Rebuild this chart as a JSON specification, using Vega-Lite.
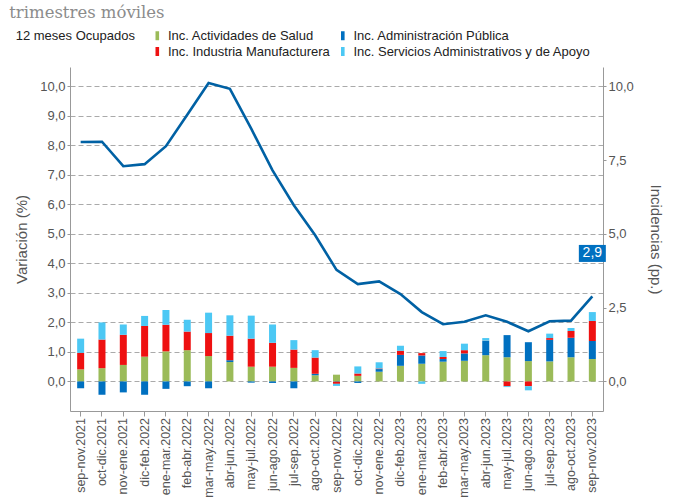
{
  "$schema": "https://vega.github.io/schema/vega-lite/v6.json",
  "width": 533,
  "height": 344,
  "autosize": {"type": "none"},
  "padding": {"left": 70, "top": 67, "right": 73, "bottom": 88},
  "background": "white",
  "title": {
    "text": "trimestres móviles",
    "anchor": "start",
    "font": "DejaVu Serif",
    "fontSize": 16.5,
    "fontWeight": "normal",
    "color": "#8c8c8c",
    "dx": 6.5,
    "offset": 8
  },
  "datasets": {
    "barras": [
      {"periodo": "sep-nov.2021", "serie": "Inc. Actividades de Salud", "valor": 0.41},
      {"periodo": "sep-nov.2021", "serie": "Inc. Administración Pública", "valor": -0.23},
      {"periodo": "sep-nov.2021", "serie": "Inc. Industria Manufacturera", "valor": 0.56},
      {"periodo": "sep-nov.2021", "serie": "Inc. Servicios Administrativos y de Apoyo", "valor": 0.48},
      {"periodo": "oct-dic.2021", "serie": "Inc. Actividades de Salud", "valor": 0.45},
      {"periodo": "oct-dic.2021", "serie": "Inc. Administración Pública", "valor": -0.45},
      {"periodo": "oct-dic.2021", "serie": "Inc. Industria Manufacturera", "valor": 0.97},
      {"periodo": "oct-dic.2021", "serie": "Inc. Servicios Administrativos y de Apoyo", "valor": 0.58},
      {"periodo": "nov-ene.2021", "serie": "Inc. Actividades de Salud", "valor": 0.56},
      {"periodo": "nov-ene.2021", "serie": "Inc. Administración Pública", "valor": -0.37},
      {"periodo": "nov-ene.2021", "serie": "Inc. Industria Manufacturera", "valor": 1.02},
      {"periodo": "nov-ene.2021", "serie": "Inc. Servicios Administrativos y de Apoyo", "valor": 0.35},
      {"periodo": "dic-feb.2022", "serie": "Inc. Actividades de Salud", "valor": 0.84},
      {"periodo": "dic-feb.2022", "serie": "Inc. Administración Pública", "valor": -0.45},
      {"periodo": "dic-feb.2022", "serie": "Inc. Industria Manufacturera", "valor": 1.04},
      {"periodo": "dic-feb.2022", "serie": "Inc. Servicios Administrativos y de Apoyo", "valor": 0.34},
      {"periodo": "ene-mar.2022", "serie": "Inc. Actividades de Salud", "valor": 1.02},
      {"periodo": "ene-mar.2022", "serie": "Inc. Administración Pública", "valor": -0.25},
      {"periodo": "ene-mar.2022", "serie": "Inc. Industria Manufacturera", "valor": 0.90},
      {"periodo": "ene-mar.2022", "serie": "Inc. Servicios Administrativos y de Apoyo", "valor": 0.50},
      {"periodo": "feb-abr.2022", "serie": "Inc. Actividades de Salud", "valor": 1.06},
      {"periodo": "feb-abr.2022", "serie": "Inc. Administración Pública", "valor": -0.16},
      {"periodo": "feb-abr.2022", "serie": "Inc. Industria Manufacturera", "valor": 0.63},
      {"periodo": "feb-abr.2022", "serie": "Inc. Servicios Administrativos y de Apoyo", "valor": 0.40},
      {"periodo": "mar-may.2022", "serie": "Inc. Actividades de Salud", "valor": 0.86},
      {"periodo": "mar-may.2022", "serie": "Inc. Administración Pública", "valor": -0.23},
      {"periodo": "mar-may.2022", "serie": "Inc. Industria Manufacturera", "valor": 0.78},
      {"periodo": "mar-may.2022", "serie": "Inc. Servicios Administrativos y de Apoyo", "valor": 0.69},
      {"periodo": "abr-jun.2022", "serie": "Inc. Actividades de Salud", "valor": 0.66},
      {"periodo": "abr-jun.2022", "serie": "Inc. Administración Pública", "valor": 0.06},
      {"periodo": "abr-jun.2022", "serie": "Inc. Industria Manufacturera", "valor": 0.83},
      {"periodo": "abr-jun.2022", "serie": "Inc. Servicios Administrativos y de Apoyo", "valor": 0.69},
      {"periodo": "may-jul.2022", "serie": "Inc. Actividades de Salud", "valor": 0.50},
      {"periodo": "may-jul.2022", "serie": "Inc. Administración Pública", "valor": -0.04},
      {"periodo": "may-jul.2022", "serie": "Inc. Industria Manufacturera", "valor": 0.95},
      {"periodo": "may-jul.2022", "serie": "Inc. Servicios Administrativos y de Apoyo", "valor": 0.78},
      {"periodo": "jun-ago.2022", "serie": "Inc. Actividades de Salud", "valor": 0.50},
      {"periodo": "jun-ago.2022", "serie": "Inc. Administración Pública", "valor": -0.05},
      {"periodo": "jun-ago.2022", "serie": "Inc. Industria Manufacturera", "valor": 0.81},
      {"periodo": "jun-ago.2022", "serie": "Inc. Servicios Administrativos y de Apoyo", "valor": 0.62},
      {"periodo": "jul-sep.2022", "serie": "Inc. Actividades de Salud", "valor": 0.46},
      {"periodo": "jul-sep.2022", "serie": "Inc. Administración Pública", "valor": -0.23},
      {"periodo": "jul-sep.2022", "serie": "Inc. Industria Manufacturera", "valor": 0.62},
      {"periodo": "jul-sep.2022", "serie": "Inc. Servicios Administrativos y de Apoyo", "valor": 0.32},
      {"periodo": "ago-oct.2022", "serie": "Inc. Actividades de Salud", "valor": 0.21},
      {"periodo": "ago-oct.2022", "serie": "Inc. Administración Pública", "valor": 0.05},
      {"periodo": "ago-oct.2022", "serie": "Inc. Industria Manufacturera", "valor": 0.55},
      {"periodo": "ago-oct.2022", "serie": "Inc. Servicios Administrativos y de Apoyo", "valor": 0.25},
      {"periodo": "sep-nov.2022", "serie": "Inc. Actividades de Salud", "valor": 0.23},
      {"periodo": "sep-nov.2022", "serie": "Inc. Administración Pública", "valor": -0.01},
      {"periodo": "sep-nov.2022", "serie": "Inc. Industria Manufacturera", "valor": -0.07},
      {"periodo": "sep-nov.2022", "serie": "Inc. Servicios Administrativos y de Apoyo", "valor": -0.07},
      {"periodo": "oct-dic.2022", "serie": "Inc. Actividades de Salud", "valor": 0.19},
      {"periodo": "oct-dic.2022", "serie": "Inc. Administración Pública", "valor": -0.05},
      {"periodo": "oct-dic.2022", "serie": "Inc. Industria Manufacturera", "valor": 0.08},
      {"periodo": "oct-dic.2022", "serie": "Inc. Servicios Administrativos y de Apoyo", "valor": 0.24},
      {"periodo": "nov-ene.2022", "serie": "Inc. Actividades de Salud", "valor": 0.33},
      {"periodo": "nov-ene.2022", "serie": "Inc. Administración Pública", "valor": 0.09},
      {"periodo": "nov-ene.2022", "serie": "Inc. Industria Manufacturera", "valor": 0.02},
      {"periodo": "nov-ene.2022", "serie": "Inc. Servicios Administrativos y de Apoyo", "valor": 0.21},
      {"periodo": "dic-feb.2023", "serie": "Inc. Actividades de Salud", "valor": 0.53},
      {"periodo": "dic-feb.2023", "serie": "Inc. Administración Pública", "valor": 0.37},
      {"periodo": "dic-feb.2023", "serie": "Inc. Industria Manufacturera", "valor": 0.14},
      {"periodo": "dic-feb.2023", "serie": "Inc. Servicios Administrativos y de Apoyo", "valor": 0.17},
      {"periodo": "ene-mar.2023", "serie": "Inc. Actividades de Salud", "valor": 0.60},
      {"periodo": "ene-mar.2023", "serie": "Inc. Administración Pública", "valor": 0.28},
      {"periodo": "ene-mar.2023", "serie": "Inc. Industria Manufacturera", "valor": 0.08},
      {"periodo": "ene-mar.2023", "serie": "Inc. Servicios Administrativos y de Apoyo", "valor": -0.08},
      {"periodo": "feb-abr.2023", "serie": "Inc. Actividades de Salud", "valor": 0.67},
      {"periodo": "feb-abr.2023", "serie": "Inc. Administración Pública", "valor": 0.09},
      {"periodo": "feb-abr.2023", "serie": "Inc. Industria Manufacturera", "valor": 0.07},
      {"periodo": "feb-abr.2023", "serie": "Inc. Servicios Administrativos y de Apoyo", "valor": 0.20},
      {"periodo": "mar-may.2023", "serie": "Inc. Actividades de Salud", "valor": 0.70},
      {"periodo": "mar-may.2023", "serie": "Inc. Administración Pública", "valor": 0.25},
      {"periodo": "mar-may.2023", "serie": "Inc. Industria Manufacturera", "valor": 0.11},
      {"periodo": "mar-may.2023", "serie": "Inc. Servicios Administrativos y de Apoyo", "valor": 0.22},
      {"periodo": "abr-jun.2023", "serie": "Inc. Actividades de Salud", "valor": 0.89},
      {"periodo": "abr-jun.2023", "serie": "Inc. Administración Pública", "valor": 0.48},
      {"periodo": "abr-jun.2023", "serie": "Inc. Industria Manufacturera", "valor": 0.01},
      {"periodo": "abr-jun.2023", "serie": "Inc. Servicios Administrativos y de Apoyo", "valor": 0.09},
      {"periodo": "may-jul.2023", "serie": "Inc. Actividades de Salud", "valor": 0.82},
      {"periodo": "may-jul.2023", "serie": "Inc. Administración Pública", "valor": 0.75},
      {"periodo": "may-jul.2023", "serie": "Inc. Industria Manufacturera", "valor": -0.16},
      {"periodo": "may-jul.2023", "serie": "Inc. Servicios Administrativos y de Apoyo", "valor": -0.03},
      {"periodo": "jun-ago.2023", "serie": "Inc. Actividades de Salud", "valor": 0.69},
      {"periodo": "jun-ago.2023", "serie": "Inc. Administración Pública", "valor": 0.64},
      {"periodo": "jun-ago.2023", "serie": "Inc. Industria Manufacturera", "valor": -0.16},
      {"periodo": "jun-ago.2023", "serie": "Inc. Servicios Administrativos y de Apoyo", "valor": -0.14},
      {"periodo": "jul-sep.2023", "serie": "Inc. Actividades de Salud", "valor": 0.68},
      {"periodo": "jul-sep.2023", "serie": "Inc. Administración Pública", "valor": 0.73},
      {"periodo": "jul-sep.2023", "serie": "Inc. Industria Manufacturera", "valor": 0.06},
      {"periodo": "jul-sep.2023", "serie": "Inc. Servicios Administrativos y de Apoyo", "valor": 0.15},
      {"periodo": "ago-oct.2023", "serie": "Inc. Actividades de Salud", "valor": 0.82},
      {"periodo": "ago-oct.2023", "serie": "Inc. Administración Pública", "valor": 0.66},
      {"periodo": "ago-oct.2023", "serie": "Inc. Industria Manufacturera", "valor": 0.23},
      {"periodo": "ago-oct.2023", "serie": "Inc. Servicios Administrativos y de Apoyo", "valor": 0.10},
      {"periodo": "sep-nov.2023", "serie": "Inc. Actividades de Salud", "valor": 0.76},
      {"periodo": "sep-nov.2023", "serie": "Inc. Administración Pública", "valor": 0.61},
      {"periodo": "sep-nov.2023", "serie": "Inc. Industria Manufacturera", "valor": 0.68},
      {"periodo": "sep-nov.2023", "serie": "Inc. Servicios Administrativos y de Apoyo", "valor": 0.30}
    ],
    "linea": [
      {"periodo": "sep-nov.2021", "serie": "12 meses Ocupados", "valor": 8.11},
      {"periodo": "oct-dic.2021", "serie": "12 meses Ocupados", "valor": 8.12},
      {"periodo": "nov-ene.2021", "serie": "12 meses Ocupados", "valor": 7.29},
      {"periodo": "dic-feb.2022", "serie": "12 meses Ocupados", "valor": 7.36},
      {"periodo": "ene-mar.2022", "serie": "12 meses Ocupados", "valor": 7.97},
      {"periodo": "feb-abr.2022", "serie": "12 meses Ocupados", "valor": 9.03},
      {"periodo": "mar-may.2022", "serie": "12 meses Ocupados", "valor": 10.11},
      {"periodo": "abr-jun.2022", "serie": "12 meses Ocupados", "valor": 9.91},
      {"periodo": "may-jul.2022", "serie": "12 meses Ocupados", "valor": 8.56},
      {"periodo": "jun-ago.2022", "serie": "12 meses Ocupados", "valor": 7.15},
      {"periodo": "jul-sep.2022", "serie": "12 meses Ocupados", "valor": 5.97},
      {"periodo": "ago-oct.2022", "serie": "12 meses Ocupados", "valor": 4.95},
      {"periodo": "sep-nov.2022", "serie": "12 meses Ocupados", "valor": 3.78},
      {"periodo": "oct-dic.2022", "serie": "12 meses Ocupados", "valor": 3.30},
      {"periodo": "nov-ene.2022", "serie": "12 meses Ocupados", "valor": 3.39},
      {"periodo": "dic-feb.2023", "serie": "12 meses Ocupados", "valor": 2.96},
      {"periodo": "ene-mar.2023", "serie": "12 meses Ocupados", "valor": 2.35},
      {"periodo": "feb-abr.2023", "serie": "12 meses Ocupados", "valor": 1.94},
      {"periodo": "mar-may.2023", "serie": "12 meses Ocupados", "valor": 2.02},
      {"periodo": "abr-jun.2023", "serie": "12 meses Ocupados", "valor": 2.24},
      {"periodo": "may-jul.2023", "serie": "12 meses Ocupados", "valor": 2.02},
      {"periodo": "jun-ago.2023", "serie": "12 meses Ocupados", "valor": 1.70},
      {"periodo": "jul-sep.2023", "serie": "12 meses Ocupados", "valor": 2.04},
      {"periodo": "ago-oct.2023", "serie": "12 meses Ocupados", "valor": 2.06},
      {"periodo": "sep-nov.2023", "serie": "12 meses Ocupados", "valor": 2.88}
    ]
  },
  "resolve": {"scale": {"y": "independent"}, "axis": {"y": "independent"}},
  "layer": [
    {
      "data": {"name": "barras"},
      "mark": {"type": "bar", "size": 7, "strokeWidth": 1, "strokeOpacity": 0.35},
      "encoding": {
        "x": {
          "field": "periodo",
          "type": "nominal",
          "sort": ["sep-nov.2021","oct-dic.2021","nov-ene.2021","dic-feb.2022","ene-mar.2022","feb-abr.2022","mar-may.2022","abr-jun.2022","may-jul.2022","jun-ago.2022","jul-sep.2022","ago-oct.2022","sep-nov.2022","oct-dic.2022","nov-ene.2022","dic-feb.2023","ene-mar.2023","feb-abr.2023","mar-may.2023","abr-jun.2023","may-jul.2023","jun-ago.2023","jul-sep.2023","ago-oct.2023","sep-nov.2023"],
          "scale": {"type": "band", "paddingInner": 0, "paddingOuter": 0},
          "axis": {
            "title": null,
            "labelAngle": -90,
            "labelFontSize": 12.5,
            "labelColor": "#555555",
            "labelFont": "Liberation Sans",
            "labelPadding": 1.5,
            "tickSize": 5,
            "tickColor": "#999999",
            "domainColor": "#999999",
            "grid": false
          }
        },
        "y": {
          "field": "valor",
          "type": "quantitative",
          "stack": "zero",
          "scale": {"domain": [-1.0, 10.65], "nice": false, "zero": false},
          "axis": {
            "orient": "left",
            "values": [0,1,2,3,4,5,6,7,8,9,10],
            "format": ".1f",
            "title": "Variación (%)",
            "titleFontSize": 15,
            "titleFontWeight": "normal",
            "titleColor": "#555555",
            "titleFont": "Liberation Sans",
            "titlePadding": 10,
            "labelFontSize": 13,
            "labelColor": "#555555",
            "labelFont": "Liberation Sans",
            "tickSize": 3,
            "tickColor": "#999999",
            "domainColor": "#999999",
            "grid": true,
            "gridColor": "#aaaaaa",
            "gridDash": [5, 3],
            "gridWidth": 1
          }
        },
        "order": {"field": "serie", "type": "nominal", "sort": "ascending"},
        "color": {
          "field": "serie",
          "type": "nominal",
          "scale": {
            "domain": ["Inc. Actividades de Salud", "Inc. Administración Pública", "Inc. Industria Manufacturera", "Inc. Servicios Administrativos y de Apoyo"],
            "range": ["#9bbb59", "#0070c0", "#ee1111", "#4cc8f4"]
          },
          "legend": {
            "title": null,
            "orient": "none",
            "legendX": 80.8,
            "legendY": -38,
            "direction": "horizontal",
            "columns": 2,
            "columnPadding": 6.5,
            "rowPadding": 2,
            "symbolType": "M-0.4,-1H0.4V1H-0.4Z",
            "symbolSize": 81,
            "symbolStrokeWidth": 0,
            "labelOffset": 4.1,
            "labelLimit": 0,
            "labelFontSize": 13,
            "labelFont": "Liberation Sans",
            "labelColor": "#222222"
          }
        }
      }
    },
    {
      "data": {"name": "linea"},
      "mark": {"type": "line", "strokeWidth": 2.6, "strokeJoin": "miter"},
      "encoding": {
        "x": {
          "field": "periodo",
          "type": "nominal",
          "bandPosition": 0.5,
          "sort": ["sep-nov.2021","oct-dic.2021","nov-ene.2021","dic-feb.2022","ene-mar.2022","feb-abr.2022","mar-may.2022","abr-jun.2022","may-jul.2022","jun-ago.2022","jul-sep.2022","ago-oct.2022","sep-nov.2022","oct-dic.2022","nov-ene.2022","dic-feb.2023","ene-mar.2023","feb-abr.2023","mar-may.2023","abr-jun.2023","may-jul.2023","jun-ago.2023","jul-sep.2023","ago-oct.2023","sep-nov.2023"]
        },
        "y": {
          "field": "valor",
          "type": "quantitative",
          "scale": {"domain": [-1.0, 10.65], "nice": false, "zero": false},
          "axis": {
            "orient": "right",
            "values": [0, 2.5, 5, 7.5, 10],
            "format": ".1f",
            "title": "Incidencias (pp.)",
            "titleFontSize": 15,
            "titleFontWeight": "normal",
            "titleColor": "#555555",
            "titleFont": "Liberation Sans",
            "titlePadding": 14,
            "labelFontSize": 13,
            "labelColor": "#555555",
            "labelFont": "Liberation Sans",
            "tickSize": 3,
            "tickColor": "#999999",
            "domainColor": "#999999",
            "grid": false
          }
        },
        "stroke": {
          "field": "serie",
          "type": "nominal",
          "scale": {"range": ["#0061a4"]},
          "legend": {
            "title": null,
            "orient": "none",
            "legendX": -67.3,
            "legendY": -38,
            "symbolSize": 0,
            "symbolStrokeWidth": 0,
            "labelOffset": 0,
            "labelLimit": 0,
            "labelFontSize": 13,
            "labelFont": "Liberation Sans",
            "labelColor": "#222222"
          }
        }
      }
    },
    {
      "data": {"name": "linea"},
      "transform": [{"filter": "datum.periodo === 'sep-nov.2023'"}],
      "mark": {"type": "point", "shape": "M-1,-0.63H1V0.63H-1Z", "size": 729, "filled": true, "opacity": 1, "color": "#0070c0", "yOffset": -43},
      "encoding": {
        "x": {"field": "periodo", "type": "nominal", "bandPosition": 0.5,
          "sort": ["sep-nov.2021","oct-dic.2021","nov-ene.2021","dic-feb.2022","ene-mar.2022","feb-abr.2022","mar-may.2022","abr-jun.2022","may-jul.2022","jun-ago.2022","jul-sep.2022","ago-oct.2022","sep-nov.2022","oct-dic.2022","nov-ene.2022","dic-feb.2023","ene-mar.2023","feb-abr.2023","mar-may.2023","abr-jun.2023","may-jul.2023","jun-ago.2023","jul-sep.2023","ago-oct.2023","sep-nov.2023"]},
        "y": {"field": "valor", "type": "quantitative", "scale": {"domain": [-1.0, 10.65], "nice": false, "zero": false}, "axis": null}
      }
    },
    {
      "data": {"name": "linea"},
      "transform": [{"filter": "datum.periodo === 'sep-nov.2023'"}],
      "mark": {"type": "text", "color": "white", "font": "Liberation Sans", "fontSize": 14, "baseline": "middle", "align": "center", "yOffset": -43},
      "encoding": {
        "x": {"field": "periodo", "type": "nominal", "bandPosition": 0.5,
          "sort": ["sep-nov.2021","oct-dic.2021","nov-ene.2021","dic-feb.2022","ene-mar.2022","feb-abr.2022","mar-may.2022","abr-jun.2022","may-jul.2022","jun-ago.2022","jul-sep.2022","ago-oct.2022","sep-nov.2022","oct-dic.2022","nov-ene.2022","dic-feb.2023","ene-mar.2023","feb-abr.2023","mar-may.2023","abr-jun.2023","may-jul.2023","jun-ago.2023","jul-sep.2023","ago-oct.2023","sep-nov.2023"]},
        "y": {"field": "valor", "type": "quantitative", "scale": {"domain": [-1.0, 10.65], "nice": false, "zero": false}, "axis": null},
        "text": {"field": "valor", "type": "quantitative", "format": ".1f"}
      }
    }
  ],
  "config": {
    "view": {"stroke": null},
    "locale": {"number": {"decimal": ",", "thousands": ".", "grouping": [3], "currency": ["", " €"]}},
    "font": "Liberation Sans"
  }
}
